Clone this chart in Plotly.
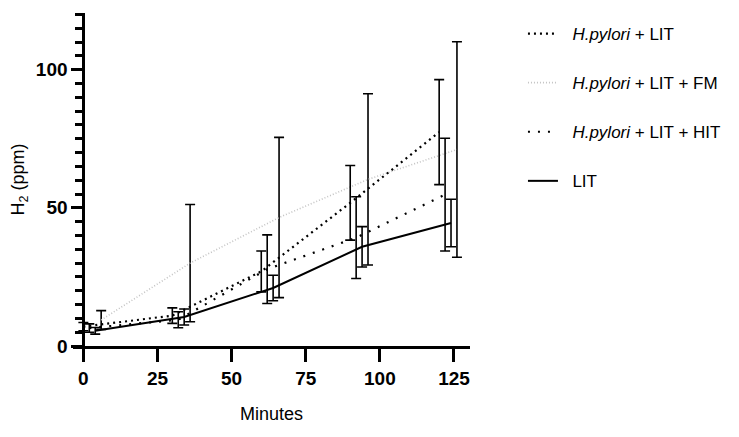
import plotly.graph_objects as go

# ---- data ----
times = [0, 30, 60, 90, 120]
series_names = ["<i>H.pylori</i> + LIT", "<i>H.pylori</i> + LIT + FM",
                "<i>H.pylori</i> + LIT + HIT", "LIT"]
hp_lit_mean = [7.0, 11.0, 27.0, 51.8, 77.4]
hp_lit_sd = [1.5, 2.8, 7.4, 13.5, 19.0]
hp_fm_mean = [9.4, 30.0, 46.5, 60.3, 71.1]
hp_fm_sd = [3.4, 21.2, 29.0, 31.0, 39.0]
hp_hit_mean = [6.5, 9.5, 27.8, 39.2, 54.8]
hp_hit_sd = [1.5, 2.9, 12.4, 14.8, 20.4]
lit_mean = [5.5, 10.5, 21.0, 35.9, 44.5]
lit_sd = [1.2, 2.9, 4.6, 7.3, 8.6]
# horizontal dodge (minutes) used by the original graph
dodge = [0, 6, 2, 4]

x_ticks = [0, 25, 50, 75, 100, 125]
y_ticks = [0, 50, 100]

FONT = "Liberation Sans, Arial"

means = [hp_lit_mean, hp_fm_mean, hp_hit_mean, lit_mean]
sds = [hp_lit_sd, hp_fm_sd, hp_hit_sd, lit_sd]
styles = [
    dict(color="black", width=2.2, dash="2px,4px"),
    dict(color="#c4c4c4", width=1.6, dash="1px,2px"),
    dict(color="black", width=2.2, dash="2px,8px"),
    dict(color="black", width=2, dash="solid"),
]

fig = go.Figure()
draw_order = [1, 0, 2, 3]
for i in draw_order:
    fig.add_trace(go.Scatter(
        x=[t + dodge[i] for t in times], y=means[i], mode="lines",
        name="&nbsp;&nbsp;" + series_names[i], line=styles[i],
        legendgroup=str(i), legendrank=i + 1,
        error_y=dict(type="data", array=sds[i], visible=True,
                     color="black", thickness=1.6, width=5),
    ))

L, R, T, B = 72.7, 269, 13, 91
plot_w = 739 - L - R
plot_h = 437 - T - B
x0 = -3.5
x1 = 130.4
ypos = (0 - x0) / (x1 - x0)

fig.update_layout(
    width=739, height=437,
    margin=dict(l=L, r=R, t=T, b=B, pad=0, autoexpand=False),
    paper_bgcolor="white", plot_bgcolor="white",
    font=dict(family=FONT, color="black", size=18),
    showlegend=True,
    legend=dict(x=(523 - L) / plot_w, y=1 - (16 - T) / plot_h,
                xanchor="left", yanchor="top",
                font=dict(family=FONT, size=17, color="black"),
                tracegroupgap=24, bgcolor="rgba(0,0,0,0)",
                itemwidth=30),
    xaxis=dict(range=[x0, x1], automargin=False,
               showline=True, linewidth=3, linecolor="black",
               showgrid=False, zeroline=False, ticks="outside", ticklen=13,
               tickwidth=3, tickcolor="black", tickvals=x_ticks,
               ticktext=[f"<b>{v}</b>" for v in x_ticks],
               tickfont=dict(family=FONT, size=19),
               title=dict(text="Minutes", font=dict(family=FONT, size=18),
                          standoff=20)),
    yaxis=dict(range=[0, 120.5], anchor="free", position=ypos,
               automargin=False,
               showline=True, linewidth=3, linecolor="black",
               showgrid=False, zeroline=False, ticks="outside", ticklen=11,
               tickwidth=3, tickcolor="black", tickvals=y_ticks,
               ticktext=[f"<b>{v}</b>" for v in y_ticks],
               tickfont=dict(family=FONT, size=19),
               minor=dict(dtick=5, ticks="outside", ticklen=7, tickwidth=3,
                          tickcolor="black", showgrid=False),
               title=dict(text="H<sub>2</sub> (ppm)",
                          font=dict(family=FONT, size=18), standoff=5)),
)

fig.write_html("out.html", config={"displayModeBar": False},
               post_script="document.body.style.margin='0';")
